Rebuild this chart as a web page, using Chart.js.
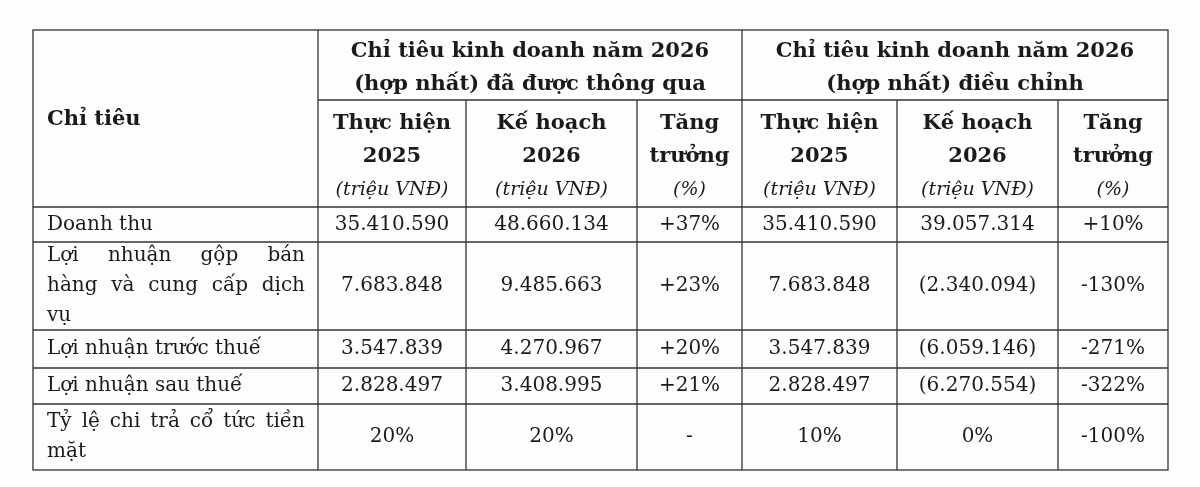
<!DOCTYPE html><html><head><meta charset="utf-8">
<script src="https://cdn.jsdelivr.net/npm/chart.js@4"></script>
<style>html,body{margin:0;background:#fdfdfd}#w{width:1200px;height:487px}</style></head><body>
<div id="w"><canvas id="c"></canvas></div>
<script>
const groupTitles=[["Chỉ tiêu kinh doanh năm 2026","(hợp nhất) đã được thông qua"],["Chỉ tiêu kinh doanh năm 2026","(hợp nhất) điều chỉnh"]];
const subHeaders=[["Thực hiện","2025","(triệu VNĐ)"],["Kế hoạch","2026","(triệu VNĐ)"],["Tăng","trưởng","(%)"]];
const rowLabels=[["Doanh thu"],["Lợi nhuận gộp bán","hàng và cung cấp dịch","vụ"],["Lợi nhuận trước thuế"],["Lợi nhuận sau thuế"],["Tỷ lệ chi trả cổ tức tiền","mặt"]];
const approved2025=["35.410.590","7.683.848","3.547.839","2.828.497","20%"];
const approvedPlan2026=["48.660.134","9.485.663","4.270.967","3.408.995","20%"];
const approvedGrowth=["+37%","+23%","+20%","+21%","-"];
const adjusted2025=["35.410.590","7.683.848","3.547.839","2.828.497","10%"];
const adjustedPlan2026=["39.057.314","(2.340.094)","(6.059.146)","(6.270.554)","0%"];
const adjustedGrowth=["+10%","-130%","-271%","-322%","-100%"];

const colX=[33,318,466,637,742,897,1058,1168];
const rowY=[30,100,207,242,330,368,404,470];
const F='"DejaVu Serif",serif';
const tablePlugin={id:'table',afterDraw(chart){
 const c=chart.ctx;c.save();c.fillStyle='#1a1a1a';c.strokeStyle='#333';c.lineWidth=1.3;
 const L=(x1,y1,x2,y2)=>{c.beginPath();c.moveTo(x1,y1);c.lineTo(x2,y2);c.stroke();};
 c.strokeRect(colX[0],rowY[0],colX[7]-colX[0],rowY[7]-rowY[0]);
 L(colX[1],rowY[1],colX[7],rowY[1]);
 for(let i=2;i<7;i++)L(colX[0],rowY[i],colX[7],rowY[i]);
 for(let j=1;j<7;j++){const top=(j===1||j===4)?rowY[0]:rowY[1];L(colX[j],top,colX[j],rowY[7]);}
 c.textBaseline='middle';c.textAlign='center';
 c.font='bold 21px '+F;
 groupTitles.forEach((g,k)=>{const cx=(colX[1+3*k]+colX[4+3*k])/2;g.forEach((t,i)=>c.fillText(t,cx,52+i*33));});
 c.textAlign='left';c.fillText('Chỉ tiêu',47,120);
 c.textAlign='center';
 for(let k=0;k<2;k++)subHeaders.forEach((h,i)=>{const cx=(colX[1+3*k+i]+colX[2+3*k+i])/2;
   c.font='bold 21px '+F;c.fillText(h[0],cx,124);c.fillText(h[1],cx,157);c.font='italic 19px '+F;c.fillText(h[2],cx,190);});
 const cols=[approved2025,approvedPlan2026,approvedGrowth,adjusted2025,adjustedPlan2026,adjustedGrowth];
 c.font='20px '+F;
 const just=(t,x,y,w)=>{const ws=t.split(' ');const tw=ws.reduce((s,q)=>s+c.measureText(q).width,0);const gap=(w-tw)/(ws.length-1);let xx=x;ws.forEach(q=>{c.fillText(q,xx,y);xx+=c.measureText(q).width+gap;});};
 rowLabels.forEach((lab,r)=>{const y0=rowY[2+r],y1=rowY[3+r],cy=(y0+y1)/2;
   c.textAlign='left';const n=lab.length;lab.forEach((t,i)=>{const y=cy+(i-(n-1)/2)*30;
     if(n>1&&i<n-1)just(t,47,y,258);else c.fillText(t,47,y);});
   c.textAlign='center';cols.forEach((col,j)=>c.fillText(col[r],(colX[1+j]+colX[2+j])/2,cy));});
 c.restore();}};
new Chart(document.getElementById('c'),{type:'bar',data:{labels:[],datasets:[]},
 options:{responsive:true,maintainAspectRatio:false,animation:false,plugins:{legend:{display:false},tooltip:{enabled:false}},
 scales:{x:{display:false},y:{display:false}}},plugins:[tablePlugin]});
</script></body></html>
